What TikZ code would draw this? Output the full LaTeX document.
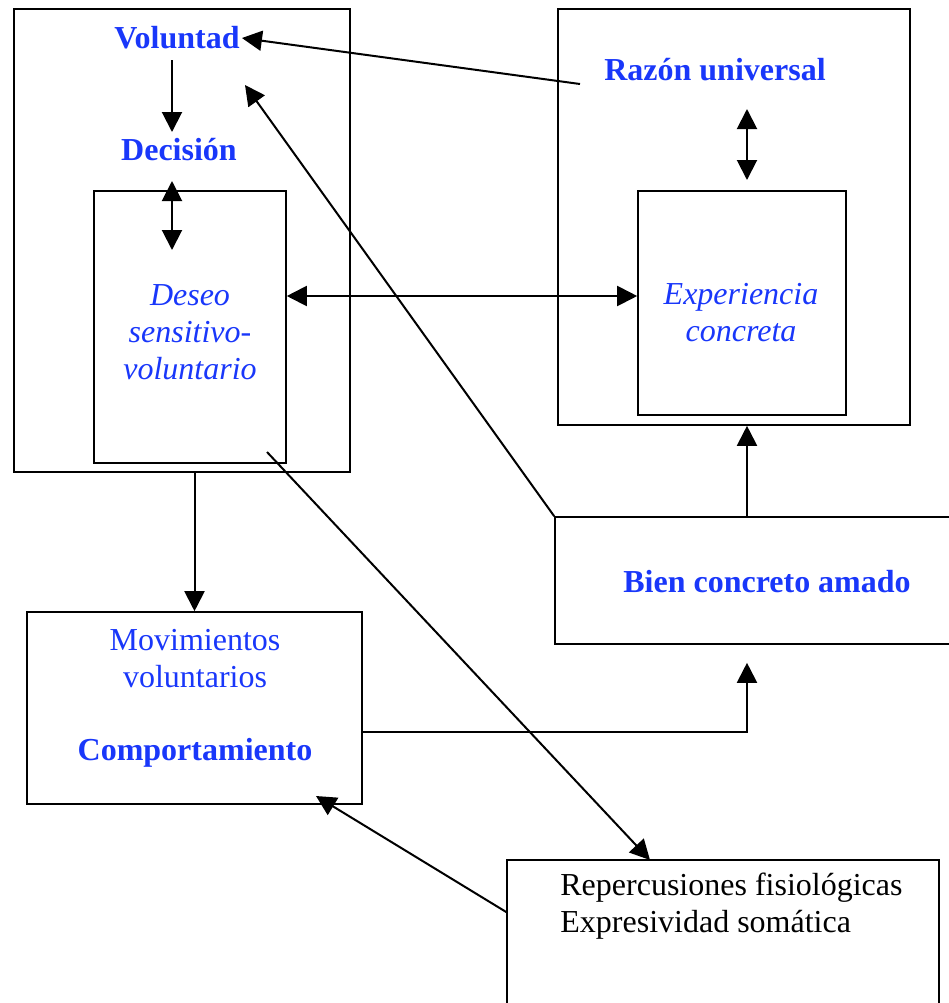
\documentclass[tikz,border=0pt]{standalone}
\usepackage{fontspec}
\setmainfont{Liberation Serif}
\usepackage{tikz}
\usetikzlibrary{arrows.meta, calc}
\newlength{\Px}
\setlength\Px{0.5pt}
\definecolor{razonblue}{RGB}{25,55,250}

\begin{document}
\begin{tikzpicture}[
    x = 0.5pt, y = -0.5pt,
    font = \fontsize{16}{18.5}\selectfont,
    box/.style = {
      rectangle, draw, line width = 0.8pt, inner sep = 0pt
    },
    label/.style = {
      text = razonblue, align = center, inner sep = 1pt
    },
    strong/.style = {
      label, font = \fontsize{16}{18.5}\selectfont\bfseries
    },
    slanted/.style = {
      label, font = \fontsize{16}{18.5}\selectfont\itshape
    },
    path/.style = {
      line width = 1pt, -{Triangle[length = 10pt, width = 10pt]}
    },
    dpath/.style = {
      line width = 1pt, {Triangle[length = 10pt, width = 10pt]}-{Triangle[length = 10pt, width = 10pt]}
    },
    ]
    \useasboundingbox  (0,0)  rectangle  (949,1003);

    % boxes
    \node  [box, minimum width = 336\Px, minimum height = 463\Px]  (volbox)  at  (182,240.5)  {};
    \node  [box, minimum width = 192\Px, minimum height = 272\Px]  (deseobox)  at  (190,327)  {};
    \node  [box, minimum width = 352\Px, minimum height = 416\Px]  (razonbox)  at  (734,217)  {};
    \node  [box, minimum width = 208\Px, minimum height = 224\Px]  (expbox)  at  (742,303)  {};
    \node  [box, minimum width = 405\Px, minimum height = 127\Px]  (bienbox)  at  (757.5,580.5)  {};
    \node  [box, minimum width = 335\Px, minimum height = 192\Px]  (movbox)  at  (194.5,708)  {};
    \node  [box, minimum width = 432\Px, minimum height = 150\Px]  (repbox)  at  (723,935)  {};

    % texts
    \node  [strong]  (voluntad)  at  (177,38)  {Voluntad};
    \node  [strong]  (decision)  at  (179,150)  {Decisión};
    \node  [strong]  (razon)  at  (715,70)  {Razón universal};
    \node  [slanted]  (deseo)  at  (190,332)  {Deseo\\sensitivo-\\voluntario};
    \node  [slanted]  (exp)  at  (741,313)  {Experiencia\\concreta};
    \node  [strong]  (bien)  at  (767,582)  {Bien concreto amado};
    \node  [label]  (mov)  at  (195,659)  {Movimientos\\voluntarios};
    \node  [strong]  (comp)  at  (195,753)  {Comportamiento};
    \node  [align = left, anchor = west, inner sep = 0pt]  (rep)  at  (560,906)  {Repercusiones fisiológicas\\Expresividad somática};

    % free ends
    \coordinate  (razonfoot)  at  (580,84);
    \coordinate  (volin)  at  (245,85);
    \coordinate  (volfoot)  at  (172,60);
    \coordinate  (dectop)  at  (172,132);
    \coordinate  (decfoot)  at  (172,181);
    \coordinate  (dectip)  at  (172,250);
    \coordinate  (midrow)  at  (0,296);
    \coordinate  (rtop)  at  (747,109);
    \coordinate  (rbot)  at  (747,180);
    \coordinate  (deseofoot)  at  (267,452);
    \coordinate  (reptip)  at  (650,860);
    \coordinate  (backrow)  at  (0,732);
    \coordinate  (movtip)  at  (316,796);

    % connectors
    \draw  [path]  (razonfoot)  to  (voluntad.east);
    \draw  [path]  (bienbox.north west)  to  (volin);
    \draw  [path]  (volfoot)  to  (dectop);
    \draw  [dpath]  (decfoot)  to  (dectip);
    \draw  [dpath]  (deseobox.east |- midrow)  to  (expbox.west |- midrow);
    \draw  [dpath]  (rtop)  to  (rbot);
    \draw  [path]  (bienbox.north -| rtop)  to  (razonbox.south -| rtop);
    \draw  [path]  (volbox.south -| movbox.north)  to  (movbox.north);
    \draw  [path]  (deseofoot)  to  (reptip);
    \draw  [path, shorten > = 18\Px]  (movbox.east |- backrow)  -|  (bienbox.south -| rtop);
    \draw  [path]  (repbox.west |- 0,912)  to  (movtip);
\end{tikzpicture}
\end{document}
